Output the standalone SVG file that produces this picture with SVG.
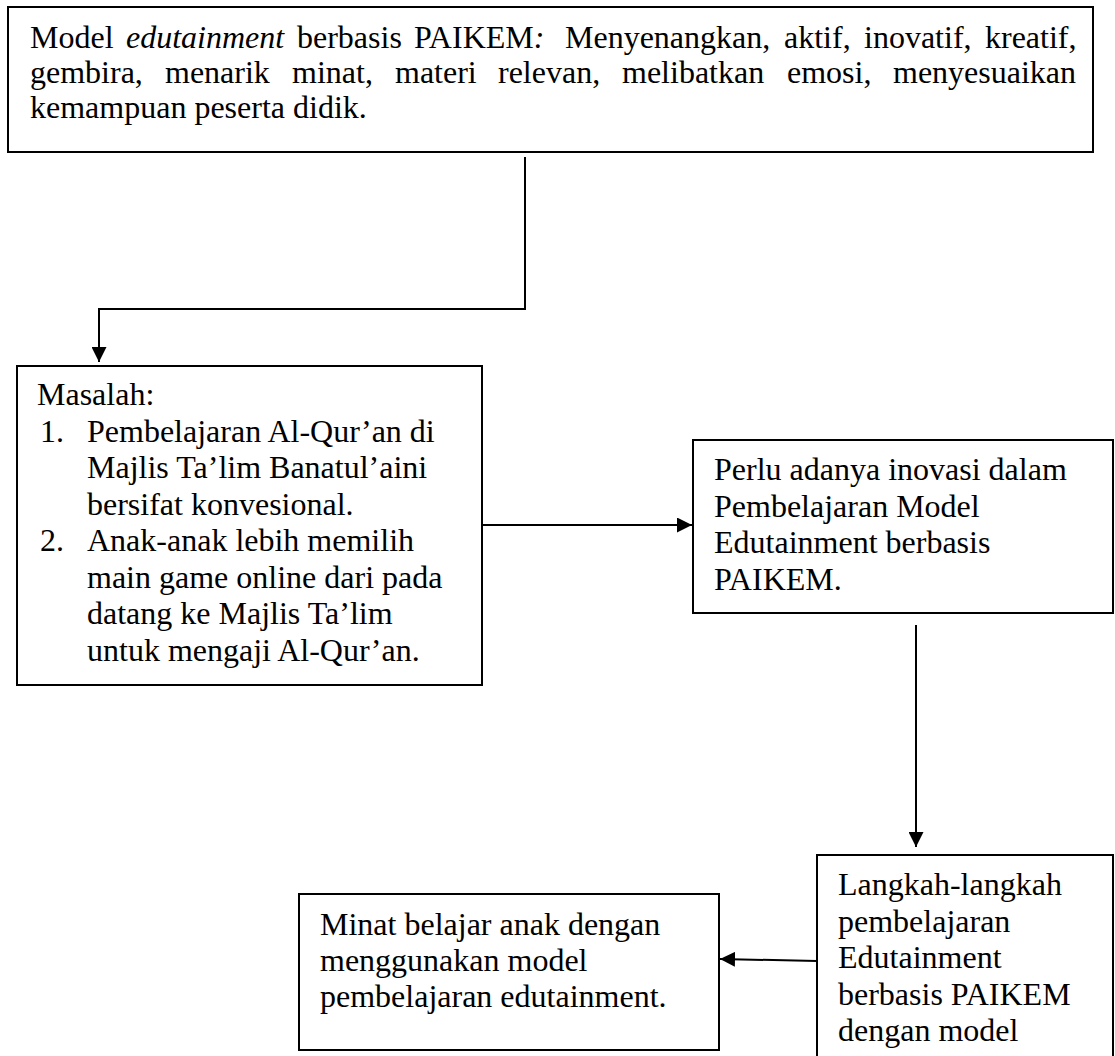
<svg xmlns="http://www.w3.org/2000/svg" width="1115" height="1056" viewBox="0 0 1115 1056">
  <style>
    .box { fill: #ffffff; stroke: #000000; stroke-width: 2; }
    .t { font-family: "Liberation Serif", "Times New Roman", serif; font-size: 32px; fill: #000000; }
    .it { font-style: italic; }
    .conn { fill: none; stroke: #000000; stroke-width: 2; }
  </style>
  <defs>
    <marker id="arrow" markerUnits="userSpaceOnUse" markerWidth="15" markerHeight="15" refX="15" refY="7.5" orient="auto">
      <path d="M0,0 L15,7.5 L0,15 Z" fill="#000000"/>
    </marker>
  </defs>
  <rect width="1115" height="1056" fill="#ffffff"/>

  <g id="node-paikem">
    <rect class="box" x="8" y="7" width="1085" height="145"/>
    <text class="t" y="48">
      <tspan x="30">Model</tspan>
      <tspan x="126" class="it">edutainment</tspan>
      <tspan x="297">berbasis</tspan>
      <tspan x="414">PAIKEM<tspan class="it">:</tspan></tspan>
      <tspan x="565">Menyenangkan,</tspan>
      <tspan x="784">aktif,</tspan>
      <tspan x="864">inovatif,</tspan>
      <tspan x="985">kreatif,</tspan>
    </text>
    <text class="t" y="83">
      <tspan x="30">gembira,</tspan>
      <tspan x="165">menarik</tspan>
      <tspan x="292">minat,</tspan>
      <tspan x="395">materi</tspan>
      <tspan x="498">relevan,</tspan>
      <tspan x="622">melibatkan</tspan>
      <tspan x="787">emosi,</tspan>
      <tspan x="893">menyesuaikan</tspan>
    </text>
    <text class="t" x="30" y="118">kemampuan peserta didik.</text>
  </g>

  <g id="node-masalah">
    <rect class="box" x="17" y="366" width="465" height="319"/>
    <text class="t" x="37" y="405">Masalah:</text>
    <text class="t" x="40" y="441.5">1.</text>
    <text class="t" x="87" y="441.5">Pembelajaran Al-Qur’an di</text>
    <text class="t" x="87" y="478">Majlis Ta’lim Banatul’aini</text>
    <text class="t" x="87" y="514.5">bersifat konvesional.</text>
    <text class="t" x="40" y="551">2.</text>
    <text class="t" x="87" y="551">Anak-anak lebih memilih</text>
    <text class="t" x="87" y="587.5">main game online dari pada</text>
    <text class="t" x="87" y="624">datang ke Majlis Ta’lim</text>
    <text class="t" x="87" y="660.5">untuk mengaji Al-Qur’an.</text>
  </g>

  <g id="node-inovasi">
    <rect class="box" x="693" y="440" width="420" height="173"/>
    <text class="t" x="714" y="480">Perlu adanya inovasi dalam</text>
    <text class="t" x="714" y="517">Pembelajaran Model</text>
    <text class="t" x="714" y="553">Edutainment berbasis</text>
    <text class="t" x="714" y="590">PAIKEM.</text>
  </g>

  <g id="node-langkah">
    <rect class="box" x="817" y="855" width="296" height="220"/>
    <text class="t" x="838" y="895">Langkah-langkah</text>
    <text class="t" x="838" y="931.5">pembelajaran</text>
    <text class="t" x="838" y="968">Edutainment</text>
    <text class="t" x="838" y="1004.5">berbasis PAIKEM</text>
    <text class="t" x="838" y="1041">dengan model</text>
  </g>

  <g id="node-minat">
    <rect class="box" x="299" y="894" width="420" height="156"/>
    <text class="t" x="320" y="935">Minat belajar anak dengan</text>
    <text class="t" x="320" y="971">menggunakan model</text>
    <text class="t" x="320" y="1007">pembelajaran edutainment.</text>
  </g>

  <g id="connectors">
    <path class="conn" d="M525,157 V309 H99 V362" marker-end="url(#arrow)"/>
    <path class="conn" d="M482,525 H692" marker-end="url(#arrow)"/>
    <path class="conn" d="M916,625 V847" marker-end="url(#arrow)"/>
    <path class="conn" d="M817,961 L720,959" marker-end="url(#arrow)"/>
  </g>
</svg>
